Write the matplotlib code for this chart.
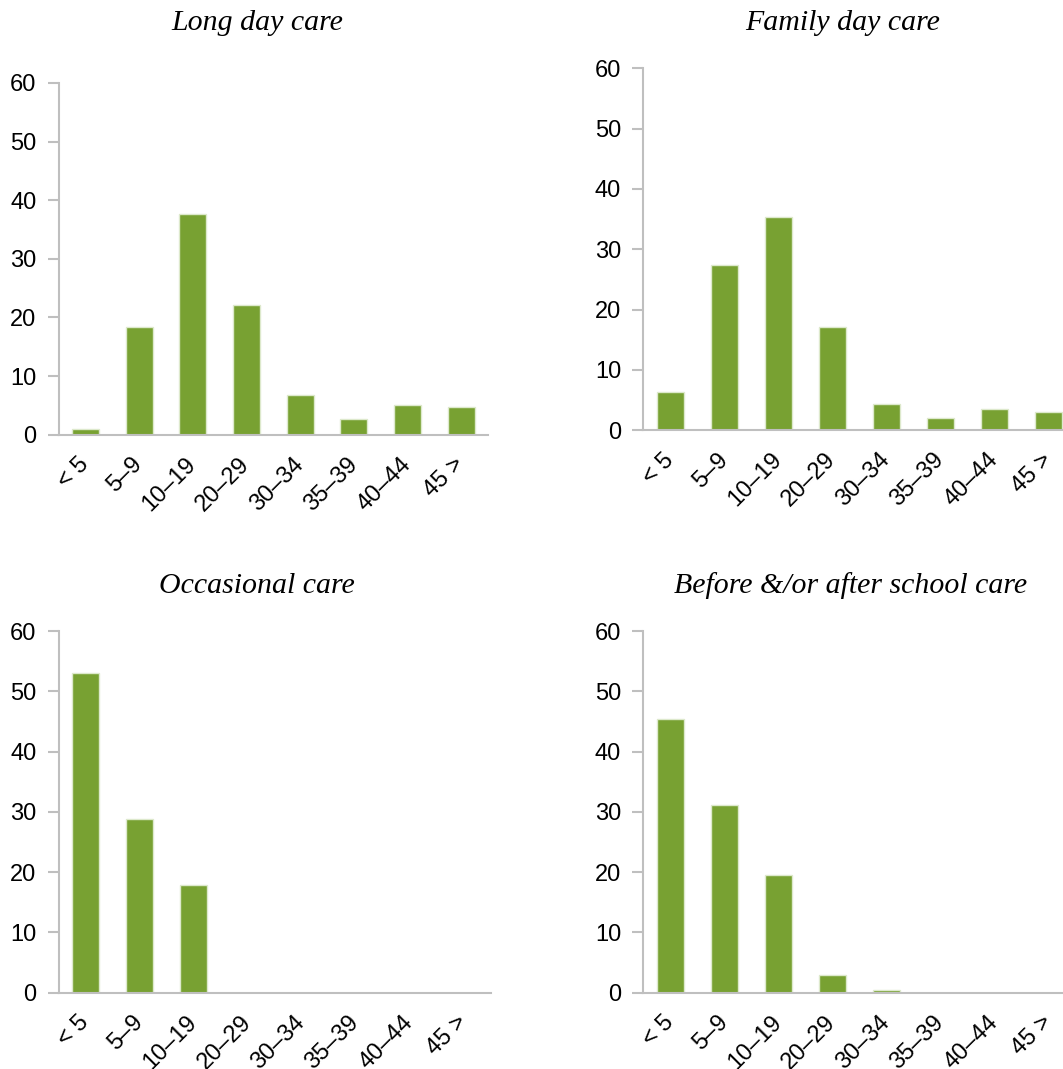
import matplotlib
matplotlib.use("Agg")
import matplotlib.pyplot as plt
import numpy as np

categories = ["< 5", "5\u20139", "10\u201319", "20\u201329", "30\u201334", "35\u201339", "40\u201344", "45 >"]
long_day_care = [1.0, 18.3, 37.7, 22.1, 6.8, 2.7, 5.1, 4.7]
family_day_care = [6.3, 27.4, 35.3, 17.2, 4.3, 2.0, 3.6, 3.0]
occasional_care = [53.0, 28.8, 17.9, 0, 0, 0, 0, 0]
school_care = [45.4, 31.1, 19.5, 3.0, 0.44, 0, 0, 0]
titles = ["Long day care", "Family day care", "Occasional care", "Before &/or after school care"]
y_ticks = [0, 10, 20, 30, 40, 50, 60]

W, H = 1063, 1069
fig = plt.figure(figsize=(W / 100, H / 100), dpi=100)

bar_color = "#78A132"
edge_color = "#DDE9CC"
axis_color = "#BFBFBF"

# (left, bottom, right, top) in pixel coords (top-origin y), title center (x, y)
layouts = [
    ((58.7, 434.7, 488.0, 83.0), (257, 23)),
    ((643.3, 430.3, 1075.3, 68.3), (843, 23)),
    ((58.7, 992.7, 490.7, 631.0), (257, 586)),
    ((643.3, 992.7, 1075.3, 631.0), (851, 586)),
]
series = [long_day_care, family_day_care, occasional_care, school_care]

for (box, tpos), vals, title in zip(layouts, series, titles):
    l, b, r, t = box
    ax = fig.add_axes([l / W, 1 - b / H, (r - l) / W, (b - t) / H])
    x = np.arange(len(categories))
    ax.bar(x, vals, width=0.5, color=bar_color, edgecolor=edge_color, linewidth=1.0, zorder=2)
    ax.set_xlim(-0.5, len(categories) - 0.5)
    ax.set_ylim(0, 60)
    ax.set_yticks(y_ticks)
    ax.set_yticklabels([str(v) for v in y_ticks], fontsize=17, fontfamily="Liberation Sans")
    ax.set_xticks(x)
    ax.set_xticklabels(categories, fontsize=17, fontfamily="Liberation Sans",
                       rotation=45, ha="right", va="center", rotation_mode="anchor")
    for lab in ax.get_xticklabels():
        lab.set_x(lab.get_position()[0])
    ax.tick_params(axis="x", length=0, pad=19)
    ax.tick_params(axis="y", length=8, width=1.5, color=axis_color, pad=8)
    for s in ["top", "right"]:
        ax.spines[s].set_visible(False)
    for s in ["left", "bottom"]:
        ax.spines[s].set_color(axis_color)
        ax.spines[s].set_linewidth(1.5)
    ax.spines["bottom"].set_zorder(3)
    fig.text(tpos[0] / W, 1 - tpos[1] / H, title, ha="center", va="center",
             fontsize=21.5, fontstyle="italic", fontfamily="Liberation Serif")

fig.savefig("out.png", dpi=100)
